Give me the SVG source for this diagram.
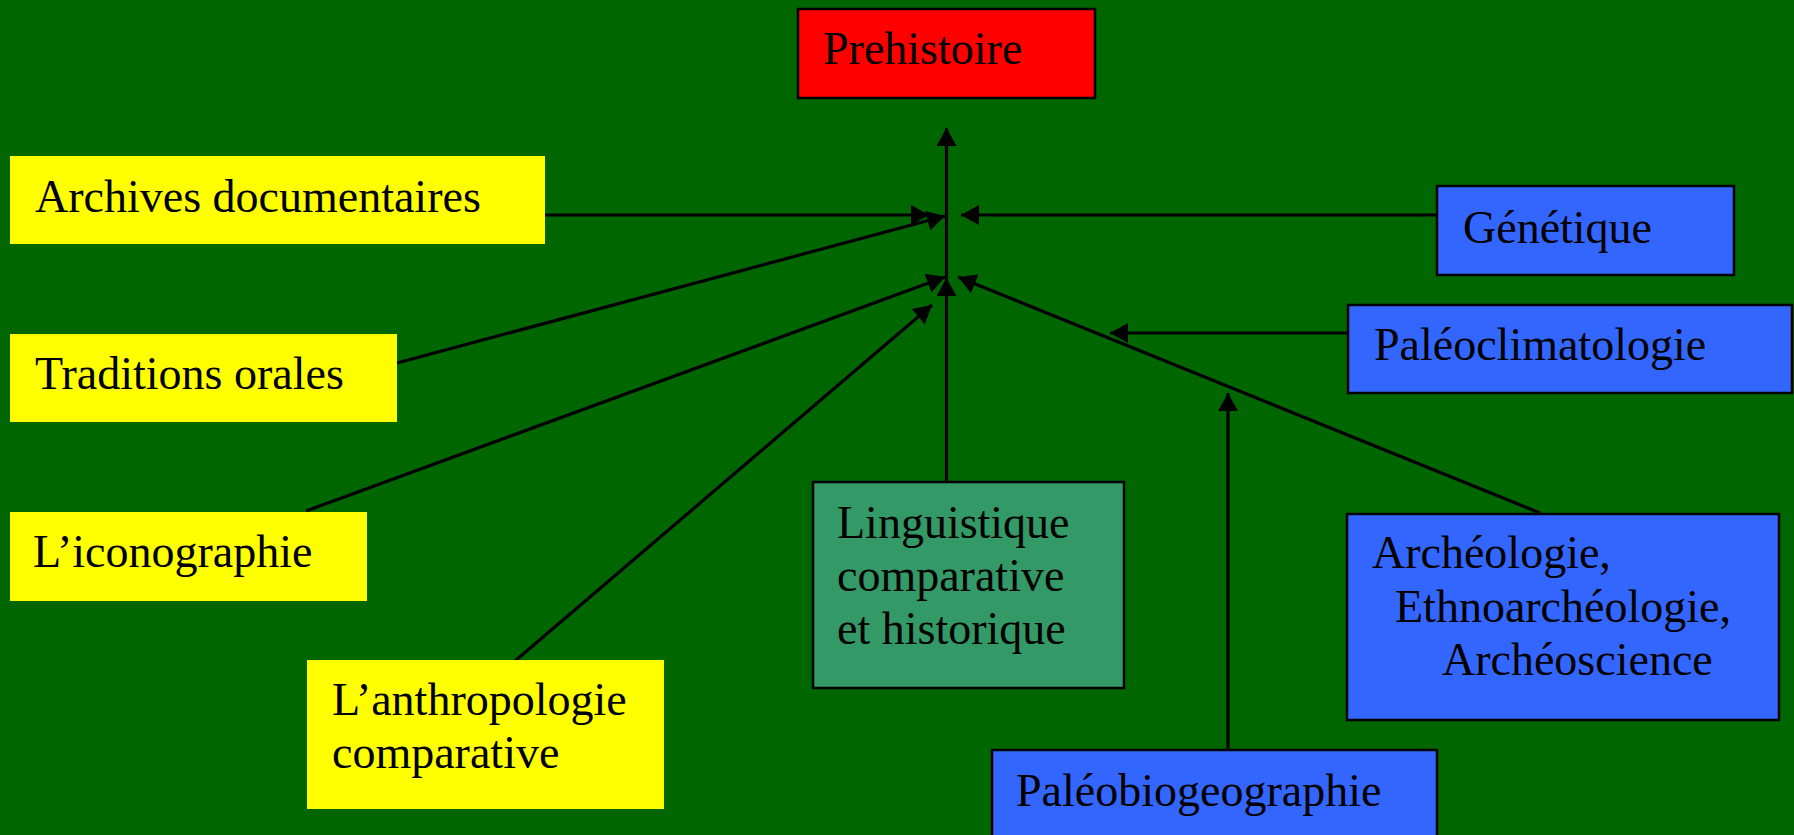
<svg xmlns="http://www.w3.org/2000/svg" width="1794" height="835" viewBox="0 0 1794 835">
<defs>
<marker id="ah" markerUnits="userSpaceOnUse" markerWidth="20" markerHeight="20" viewBox="0 0 18 20" refX="18" refY="10" orient="auto">
<path d="M0,0 L18,10 L0,20 Z" fill="#000"/>
</marker>
<style>
.t{font-family:"Liberation Serif","Times New Roman",serif;font-size:46px;fill:#000}
.b{stroke:#000;stroke-width:2.5}
.c{stroke:#000;stroke-width:3.2;fill:none;marker-end:url(#ah)}
</style>
</defs>
<rect x="0" y="0" width="1794" height="835" fill="#006600"/>
<g id="connectors">
<line class="c" x1="946.5" y1="482" x2="946.5" y2="278"/>
<line class="c" x1="946.5" y1="278" x2="946.5" y2="128"/>
<line class="c" x1="545" y1="215" x2="929" y2="215"/>
<line class="c" x1="397" y1="363" x2="945" y2="216"/>
<line class="c" x1="1436" y1="215" x2="961" y2="215"/>
<line class="c" x1="306" y1="511" x2="945" y2="277"/>
<line class="c" x1="515" y1="661" x2="932" y2="305"/>
<line class="c" x1="1540" y1="513" x2="958" y2="277"/>
<line class="c" x1="1347" y1="333" x2="1110" y2="333"/>
<line class="c" x1="1228" y1="749" x2="1228" y2="393"/>
</g>
<g id="prehistoire"><rect class="b" x="798" y="9" width="297" height="89" fill="#ff0000"/><text class="t" x="823" y="64">Prehistoire</text></g>
<g id="archives"><rect x="10" y="156" width="535" height="88" fill="#ffff00"/><text class="t" x="35" y="212">Archives documentaires</text></g>
<g id="traditions"><rect x="10" y="334" width="387" height="88" fill="#ffff00"/><text class="t" x="35" y="389">Traditions orales</text></g>
<g id="iconographie"><rect x="10" y="512" width="357" height="89" fill="#ffff00"/><text class="t" x="33" y="567">L’iconographie</text></g>
<g id="anthropologie"><rect x="307" y="660" width="357" height="149" fill="#ffff00"/><text class="t" x="332" y="715">L’anthropologie</text><text class="t" x="332" y="768">comparative</text></g>
<g id="linguistique"><rect class="b" x="813" y="482" width="311" height="206" fill="#339966"/><text class="t" x="837" y="538">Linguistique</text><text class="t" x="837" y="591">comparative</text><text class="t" x="837" y="644">et historique</text></g>
<g id="genetique"><rect class="b" x="1437" y="186" width="297" height="89" fill="#3366ff"/><text class="t" x="1463" y="243">Génétique</text></g>
<g id="paleoclimatologie"><rect class="b" x="1348" y="305" width="444" height="88" fill="#3366ff"/><text class="t" x="1374" y="360">Paléoclimatologie</text></g>
<g id="archeologie"><rect class="b" x="1347" y="514" width="432" height="206" fill="#3366ff"/><text class="t" x="1372" y="568">Archéologie,</text><text class="t" x="1395" y="622">Ethnoarchéologie,</text><text class="t" x="1442" y="675">Archéoscience</text></g>
<g id="paleobiogeographie"><rect class="b" x="992" y="750" width="445" height="100" fill="#3366ff"/><text class="t" x="1016" y="806">Paléobiogeographie</text></g>
</svg>
